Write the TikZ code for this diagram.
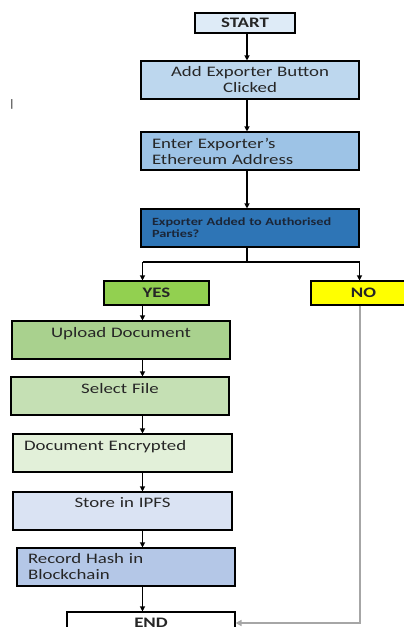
\documentclass[tikz,border=0pt]{standalone}
\usepackage{fontspec}
\setmainfont{Carlito}[FakeStretch=1.3]
\usepackage{tikz}
\usetikzlibrary{arrows.meta,positioning}

\definecolor{startblue}{HTML}{DEEBF7}
\definecolor{clickblue}{HTML}{BDD7EE}
\definecolor{addrblue}{HTML}{9DC3E6}
\definecolor{checkblue}{HTML}{2E75B6}
\definecolor{checktext}{HTML}{1B2638}
\definecolor{yesgreen}{HTML}{92D050}
\definecolor{nofill}{HTML}{FFFF00}
\definecolor{uploadgreen}{HTML}{A9D18E}
\definecolor{selectgreen}{HTML}{C5E0B4}
\definecolor{encgreen}{HTML}{E2F0D9}
\definecolor{ipfsblue}{HTML}{DAE3F3}
\definecolor{hashblue}{HTML}{B4C7E7}
\definecolor{noline}{HTML}{A6A6A6}
\definecolor{inktext}{HTML}{262626}

\tikzset{
  flowbox/.style={draw=black, line width=1.1pt, rectangle, minimum height=38,
    inner xsep=11pt, inner ysep=0pt, text=inktext,
    font=\fontsize{14.5}{16}\selectfont},
  midtext/.style={align=center, text width=#1},
  lefttext/.style={align=left, text width=#1},
  tagbox/.style={draw=black, line width=1.1pt, rectangle, minimum height=#1,
    inner sep=0pt, text=inktext, font=\fontsize{14.5}{16}\selectfont\bfseries},
  arr/.style={line width=1.1pt, -{Triangle[length=5pt,width=5pt]}},
  plain/.style={line width=1.1pt},
  noarr/.style={draw=noline, line width=2pt, -{Triangle[length=6pt,width=6pt]}}
}

\begin{document}
\begin{tikzpicture}[x=1pt,y=-1pt]
  \useasboundingbox (0,0) rectangle (404,627);

% Nodes
  \node[tagbox=20, fill=startblue, minimum width=100] (start) at (245,23) {START}; %
  \node[flowbox, fill=clickblue, minimum width=218, midtext=196] (click) at (250,80)
    {Add Exporter Button\\Clicked}; %
  \node[flowbox, fill=addrblue, minimum width=218, lefttext=196] (addr) at (250,151)
    {Enter Exporter’s\\Ethereum Address}; %
  \node[flowbox, fill=checkblue, minimum width=218, lefttext=196, text=checktext,
    font=\fontsize{11}{12}\selectfont\bfseries] (check) at (250,228)
    {Exporter Added to Authorised\\Parties?}; %
  \node[tagbox=24, fill=yesgreen, minimum width=105] (yes) at (156.5,293) {YES}; %
  \node[tagbox=24, fill=nofill, minimum width=105] (no) at (363.5,293) {NO}; %
  \node[flowbox, fill=uploadgreen, minimum width=218, midtext=196] (upload) at (121,340)
    {Upload Document\\~}; %
  \node[flowbox, fill=selectgreen, minimum width=218, midtext=196] (select) at (120,396)
    {Select File\\~}; %
  \node[flowbox, fill=encgreen, minimum width=219, lefttext=197] (encrypt) at (122.5,453)
    {Document Encrypted\\~}; %
  \node[flowbox, fill=ipfsblue, minimum width=219, midtext=197] (ipfs) at (122.5,511)
    {Store in IPFS\\~}; %
  \node[flowbox, fill=hashblue, minimum width=218, lefttext=196] (hash) at (126,567)
    {Record Hash in\\Blockchain}; %
  \node[tagbox=22, fill=white, minimum width=168] (finish) at (151,623) {END}; %
  \node[text=inktext, font=\fontsize{11}{12}\selectfont, inner sep=0pt] (cursor) at (12,104) {|}; %

% Edges
  \coordinate (spine) at (247,0);
  \coordinate (leftspine) at (142.5,0);
  \coordinate (rightspine) at (359.5,0);
  \coordinate (split) at (247,262);

  \draw[arr] (start.south -| spine) -- (click.north -| spine);
  \draw[arr] (click.south -| spine) -- (addr.north -| spine);
  \draw[arr] (addr.south -| spine) -- (check.north -| spine);
  \draw[plain] (check.south -| spine) -- (split);
  \draw[plain] (split -| leftspine) -- (split -| rightspine);
  \draw[arr] (split -| leftspine) -- (yes.north -| leftspine);
  \draw[arr] (split -| rightspine) -- (no.north -| rightspine);
  \draw[arr] (yes.south -| leftspine) -- (upload.north -| leftspine);
  \draw[arr] (upload.south -| leftspine) -- (select.north -| leftspine);
  \draw[arr] (select.south -| leftspine) -- (encrypt.north -| leftspine);
  \draw[arr] (encrypt.south -| leftspine) -- (ipfs.north -| leftspine);
  \draw[arr] (ipfs.south -| leftspine) -- (hash.north -| leftspine);
  \draw[arr] (hash.south -| leftspine) -- (finish.north -| leftspine);
  \draw[noarr] (no.south -| rightspine) |- (finish.east);

\end{tikzpicture}
\end{document}
